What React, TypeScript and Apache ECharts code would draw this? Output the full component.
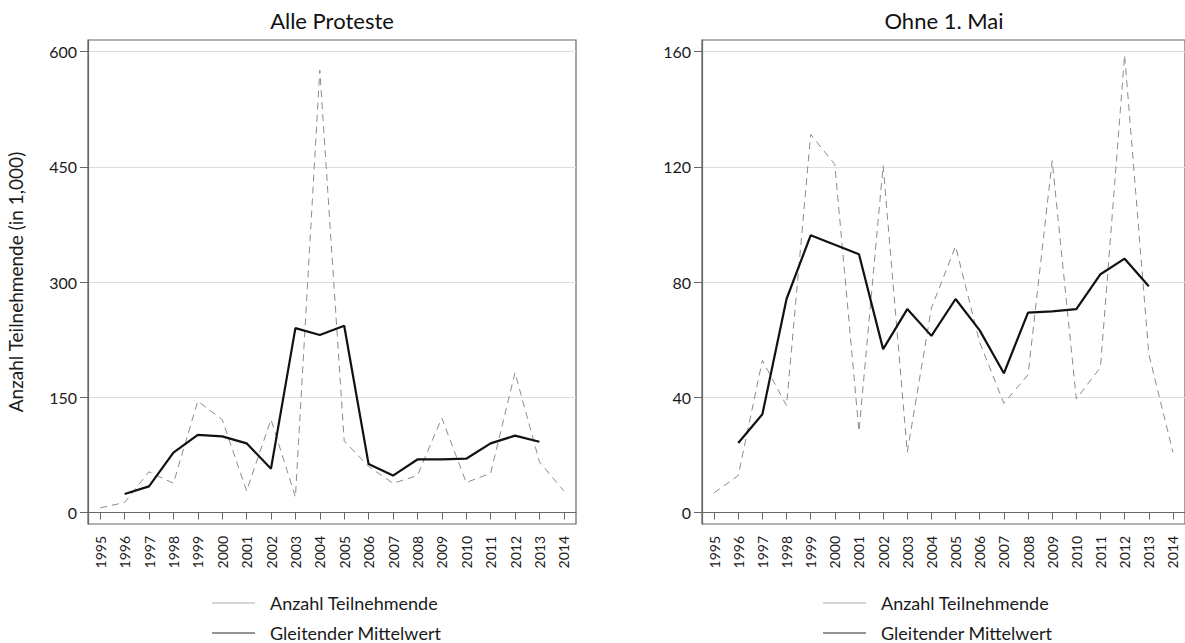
import React, { useEffect, useRef } from "react";
import * as echarts from "echarts";

const years = ["1995","1996","1997","1998","1999","2000","2001","2002","2003","2004","2005","2006","2007","2008","2009","2010","2011","2012","2013","2014"];

const allCount = [6, 13, 53, 38, 145, 121, 28, 121, 20, 576, 93, 60, 38, 48, 123, 39, 51, 182, 66, 28];
const allAvg = [null, 24, 34, 78, 101, 99, 90, 57, 240, 231, 243, 63, 48, 69, 69, 70, 90, 100, 92, null];

const noMayCount = [6.8, 12.8, 52.8, 37.1, 131.2, 120.8, 28.1, 120.4, 20.9, 71, 92.4, 59, 37.9, 47.8, 122.1, 39.4, 50.4, 158.8, 55, 20.9];
const noMayAvg = [null, 24.1, 34.1, 74.1, 96.2, 92.9, 89.6, 56.7, 70.6, 61.3, 74.1, 63.2, 48.3, 69.4, 69.8, 70.6, 82.7, 88.1, 78.5, null];

const leftTicks = [0, 150, 300, 450, 600];
const rightTicks = [0, 40, 80, 120, 160];

const titles = ["Alle Proteste", "Ohne 1. Mai"];
const yName = "Anzahl Teilnehmende (in 1,000)";
const legendNames = ["Anzahl Teilnehmende", "Gleitender Mittelwert"];

const FONT = "Lato";

export default function App() {
  const ref = useRef<HTMLDivElement>(null);
  useEffect(() => {
    if (!ref.current) return;
    const chart = echarts.init(ref.current, null, { renderer: "svg" });
    const grids = [
      { left: 88, top: 40, width: 488, height: 484 },
      { left: 702, top: 40, width: 486, height: 484 },
    ];
    const mkX = (i: number) => ({
      type: "category",
      gridIndex: i,
      data: years,
      boundaryGap: true,
      axisLine: { show: true, lineStyle: { color: "#666666", width: 1.2 } },
      axisTick: { show: true, alignWithLabel: true, length: 7, lineStyle: { color: "#666666" } },
      axisLabel: { rotate: 90, fontSize: 14, color: "#1a1a1a", fontFamily: FONT, margin: 12, interval: 0 },
      splitLine: { show: false },
    });
    const mkY = (i: number, min: number, max: number, ticks: number[], name?: string) => ({
      type: "value",
      gridIndex: i,
      min,
      max,
      name: name || "",
      nameLocation: "middle",
      nameGap: 63,
      nameTextStyle: { fontSize: 19, color: "#1a1a1a", fontFamily: FONT },
      axisLine: { show: true, lineStyle: { color: "#666666", width: 1.2 } },
      axisTick: { show: true, length: 8, customValues: ticks, lineStyle: { color: "#666666" } },
      axisLabel: { fontSize: 16, color: "#1a1a1a", fontFamily: FONT, margin: 11, customValues: ticks },
      splitLine: { show: true, lineStyle: { color: "#dcdcdc", width: 1 } },
    });
    const dashed = { color: "#8c8c8c", width: 1, type: [7, 5] };
    const solid = { color: "#111111", width: 2.2, type: "solid" };
    const legendGraphics = (x: number) => [
      { type: "line", shape: { x1: x, y1: 603, x2: x + 43, y2: 603 }, style: { stroke: "#c8c8c8", lineWidth: 1.5 } },
      { type: "line", shape: { x1: x, y1: 633, x2: x + 43, y2: 633 }, style: { stroke: "#707070", lineWidth: 1.5 } },
      { type: "text", x: x + 58, y: 603, style: { text: legendNames[0], font: `18px "${FONT}"`, fill: "#1a1a1a", textVerticalAlign: "middle" } },
      { type: "text", x: x + 58, y: 633, style: { text: legendNames[1], font: `18px "${FONT}"`, fill: "#1a1a1a", textVerticalAlign: "middle" } },
    ];
    chart.setOption({
      animation: false,
      backgroundColor: "#ffffff",
      title: [
        { text: titles[0], left: 332, top: 9, padding: 0, textAlign: "center", textStyle: { fontSize: 22, fontWeight: "normal", color: "#111", fontFamily: FONT } },
        { text: titles[1], left: 944, top: 9, padding: 0, textAlign: "center", textStyle: { fontSize: 22, fontWeight: "normal", color: "#111", fontFamily: FONT } },
      ],
      grid: grids.map((g) => ({ ...g, show: true, borderColor: "#666666", borderWidth: 1.2, backgroundColor: "transparent" })),
      xAxis: [mkX(0), mkX(1)],
      yAxis: [mkY(0, -15, 615, leftTicks, yName), mkY(1, -4, 164, rightTicks)],
      series: [
        { name: legendNames[0], type: "line", xAxisIndex: 0, yAxisIndex: 0, data: allCount, symbol: "none", lineStyle: dashed },
        { name: legendNames[1], type: "line", xAxisIndex: 0, yAxisIndex: 0, data: allAvg, symbol: "none", lineStyle: solid },
        { name: legendNames[0], type: "line", xAxisIndex: 1, yAxisIndex: 1, data: noMayCount, symbol: "none", lineStyle: dashed },
        { name: legendNames[1], type: "line", xAxisIndex: 1, yAxisIndex: 1, data: noMayAvg, symbol: "none", lineStyle: solid },
      ],
      graphic: [...legendGraphics(212), ...legendGraphics(823)],
    });
    return () => chart.dispose();
  }, []);
  return <div ref={ref} style={{ position: "fixed", left: 0, top: 0, width: 1185, height: 643 }} />;
}
